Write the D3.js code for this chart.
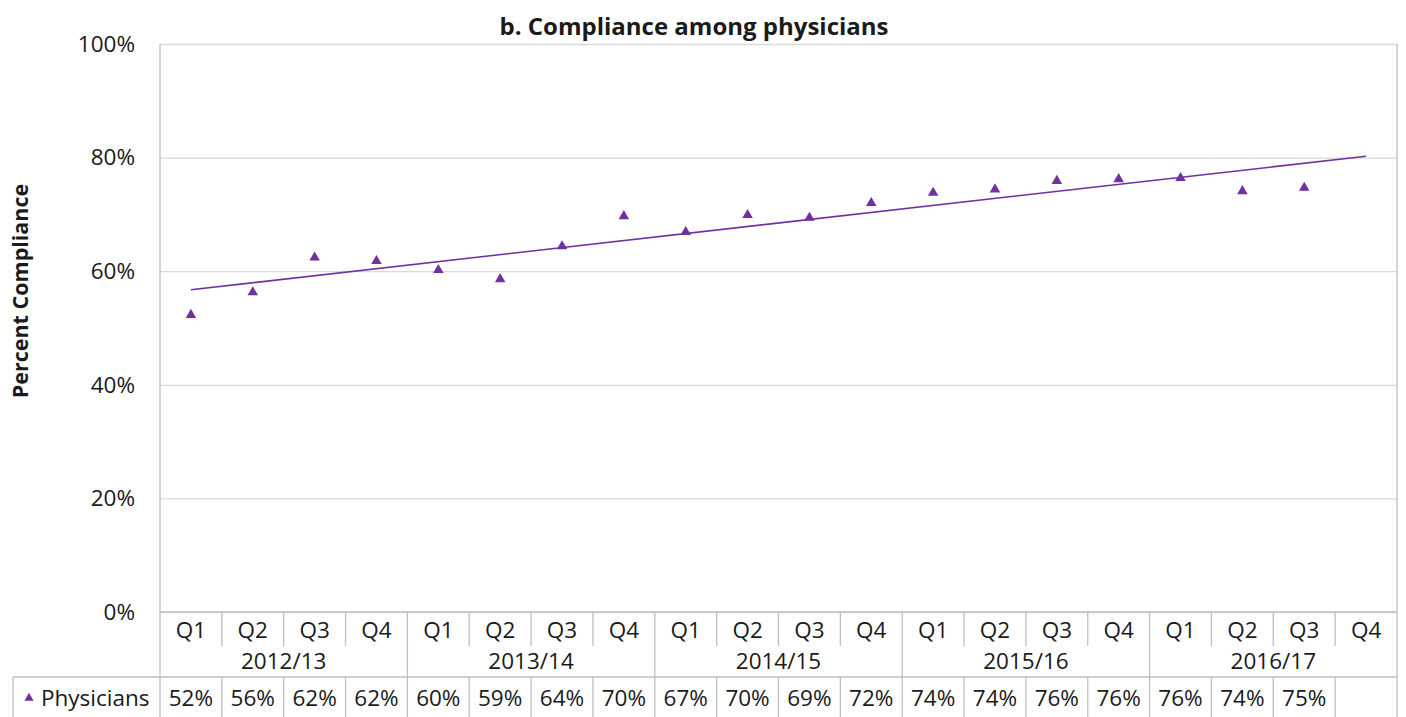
<!DOCTYPE html>
<html>
<head>
<meta charset="utf-8">
<script src="https://cdn.jsdelivr.net/npm/d3@7"></script>
<style>
  body { margin: 0; background: #fff; }
  svg text { font-family: "Open Sans", "Noto Sans", sans-serif; fill: #1a1a1a; }
</style>
</head>
<body>
<div id="chart"></div>
<script>
// data
var years = ["2012/13", "2013/14", "2014/15", "2015/16", "2016/17"];
var quarters = ["Q1", "Q2", "Q3", "Q4"];
var physicians = [0.523, 0.563, 0.624, 0.618, 0.602, 0.586, 0.644, 0.697,
                  0.669, 0.699, 0.694, 0.720, 0.738, 0.744, 0.759, 0.762,
                  0.764, 0.741, 0.747, null];
var yTicks = [0, 0.2, 0.4, 0.6, 0.8, 1];

function init() {
    var w = 1406, h = 717;
    var left = 160, right = 1397, top = 44, bottom = 612;
    var rowQ = 34, rowY = 65;
    var legendLeft = 13;
    var purple = "#7030a0";
    var lineCol = "#bfbfbf";
    var fs = "22.5px";
    var fmt = d3.format(".0%");

    // one entry per quarter
    var cats = [];
    years.forEach(function(y, i) {
        quarters.forEach(function(q, j) {
            cats.push({ key: y + "-" + q, year: y, q: q, value: physicians[i * 4 + j] });
        });
    });

    var xScale = d3.scaleBand().domain(cats.map(function(d) { return d.key; }))
        .range([left, right]);
    var yScale = d3.scaleLinear().domain([0, 1]).range([bottom, top]);

    var svg = d3.select("#chart").append("svg")
        .attr("width", w).attr("height", h);

    // gridlines + y labels
    var yAxis = d3.axisLeft(yScale).tickValues(yTicks).tickFormat(fmt)
        .tickSize(-(right - left)).tickPadding(25);
    var gy = svg.append("g").attr("transform", "translate(" + left + ",0)").call(yAxis);
    gy.select(".domain").remove();
    gy.selectAll(".tick line").attr("stroke", "#d9d9d9").attr("stroke-width", 1.3);
    gy.selectAll(".tick text").attr("font-size", fs).attr("fill", "#1a1a1a")
        .attr("font-family", "Open Sans, sans-serif");

    // frame lines
    svg.append("line").attr("x1", left).attr("x2", left).attr("y1", top).attr("y2", h)
        .attr("stroke", lineCol).attr("stroke-width", 1.3);
    svg.append("line").attr("x1", right).attr("x2", right).attr("y1", top).attr("y2", h)
        .attr("stroke", lineCol).attr("stroke-width", 1.3);

    // linear trendline (least squares over the known points, extended to last slot)
    var pts = cats.map(function(d, i) { return [i + 1, d.value]; })
        .filter(function(p) { return p[1] != null; });
    var mx = d3.mean(pts, function(p) { return p[0]; });
    var my = d3.mean(pts, function(p) { return p[1]; });
    var slope = d3.sum(pts, function(p) { return (p[0] - mx) * (p[1] - my); }) /
                d3.sum(pts, function(p) { return (p[0] - mx) * (p[0] - mx); });
    var trend = cats.map(function(d, i) { return { key: d.key, v: my + slope * (i + 1 - mx) }; });
    var line = d3.line()
        .x(function(d) { return xScale(d.key) + xScale.bandwidth() / 2; })
        .y(function(d) { return yScale(d.v); });
    svg.append("path").datum([trend[0], trend[trend.length - 1]])
        .attr("d", line).attr("fill", "none")
        .attr("stroke", purple).attr("stroke-width", 1.6);

    // markers
    var tri = d3.symbol().type(d3.symbolTriangle).size(48);
    svg.selectAll(".pt").data(cats.filter(function(d) { return d.value != null; }))
        .enter().append("path").attr("class", "pt")
        .attr("d", tri)
        .attr("transform", function(d) {
            return "translate(" + (xScale(d.key) + xScale.bandwidth() / 2) + "," + yScale(d.value) + ")";
        })
        .attr("fill", purple);

    // data table
    var yQ = bottom + rowQ, yY = bottom + rowY;
    svg.append("line").attr("x1", left).attr("x2", right).attr("y1", bottom).attr("y2", bottom)
        .attr("stroke", lineCol).attr("stroke-width", 1.3);
    svg.append("line").attr("x1", legendLeft).attr("x2", right).attr("y1", yY).attr("y2", yY)
        .attr("stroke", lineCol).attr("stroke-width", 1.3);
    svg.append("line").attr("x1", legendLeft).attr("x2", legendLeft).attr("y1", yY).attr("y2", h)
        .attr("stroke", lineCol).attr("stroke-width", 1.3);

    cats.forEach(function(d, i) {
        var x0 = xScale(d.key), cx = x0 + xScale.bandwidth() / 2;
        if (i > 0) {
            var yearEdge = (i % 4 === 0);
            svg.append("line").attr("x1", x0).attr("x2", x0)
                .attr("y1", bottom).attr("y2", yearEdge ? h : yQ)
                .attr("stroke", lineCol).attr("stroke-width", 1.3);
            if (!yearEdge) {
                svg.append("line").attr("x1", x0).attr("x2", x0)
                    .attr("y1", yY).attr("y2", h)
                    .attr("stroke", lineCol).attr("stroke-width", 1.3);
            }
        }
        svg.append("text").attr("x", cx).attr("y", bottom + 26)
            .attr("text-anchor", "middle").attr("font-size", fs).text(d.q);
        if (d.value != null) {
            svg.append("text").attr("x", cx).attr("y", yY + 29)
                .attr("text-anchor", "middle").attr("font-size", fs).text(fmt(d.value));
        }
    });

    years.forEach(function(y, i) {
        var x0 = xScale(y + "-Q1"), x1 = xScale(y + "-Q4") + xScale.bandwidth();
        svg.append("text").attr("x", (x0 + x1) / 2).attr("y", bottom + 57)
            .attr("text-anchor", "middle").attr("font-size", fs).text(y);
    });

    // legend cell
    svg.append("path").attr("d", d3.symbol().type(d3.symbolTriangle).size(36))
        .attr("transform", "translate(29," + (yY + 21) + ")").attr("fill", purple);
    svg.append("text").attr("x", 41).attr("y", yY + 29).attr("font-size", fs).text("Physicians");

    // titles
    svg.append("text").attr("x", 694).attr("y", 35).attr("text-anchor", "middle")
        .attr("font-size", "24px").attr("font-weight", "bold").text("b. Compliance among physicians");
    svg.append("text").attr("transform", "translate(28," + 291 + ") rotate(-90)")
        .attr("text-anchor", "middle").attr("font-size", "21.5px").attr("font-weight", "bold")
        .text("Percent Compliance");
}
window.onload = init;
</script>
</body>
</html>
